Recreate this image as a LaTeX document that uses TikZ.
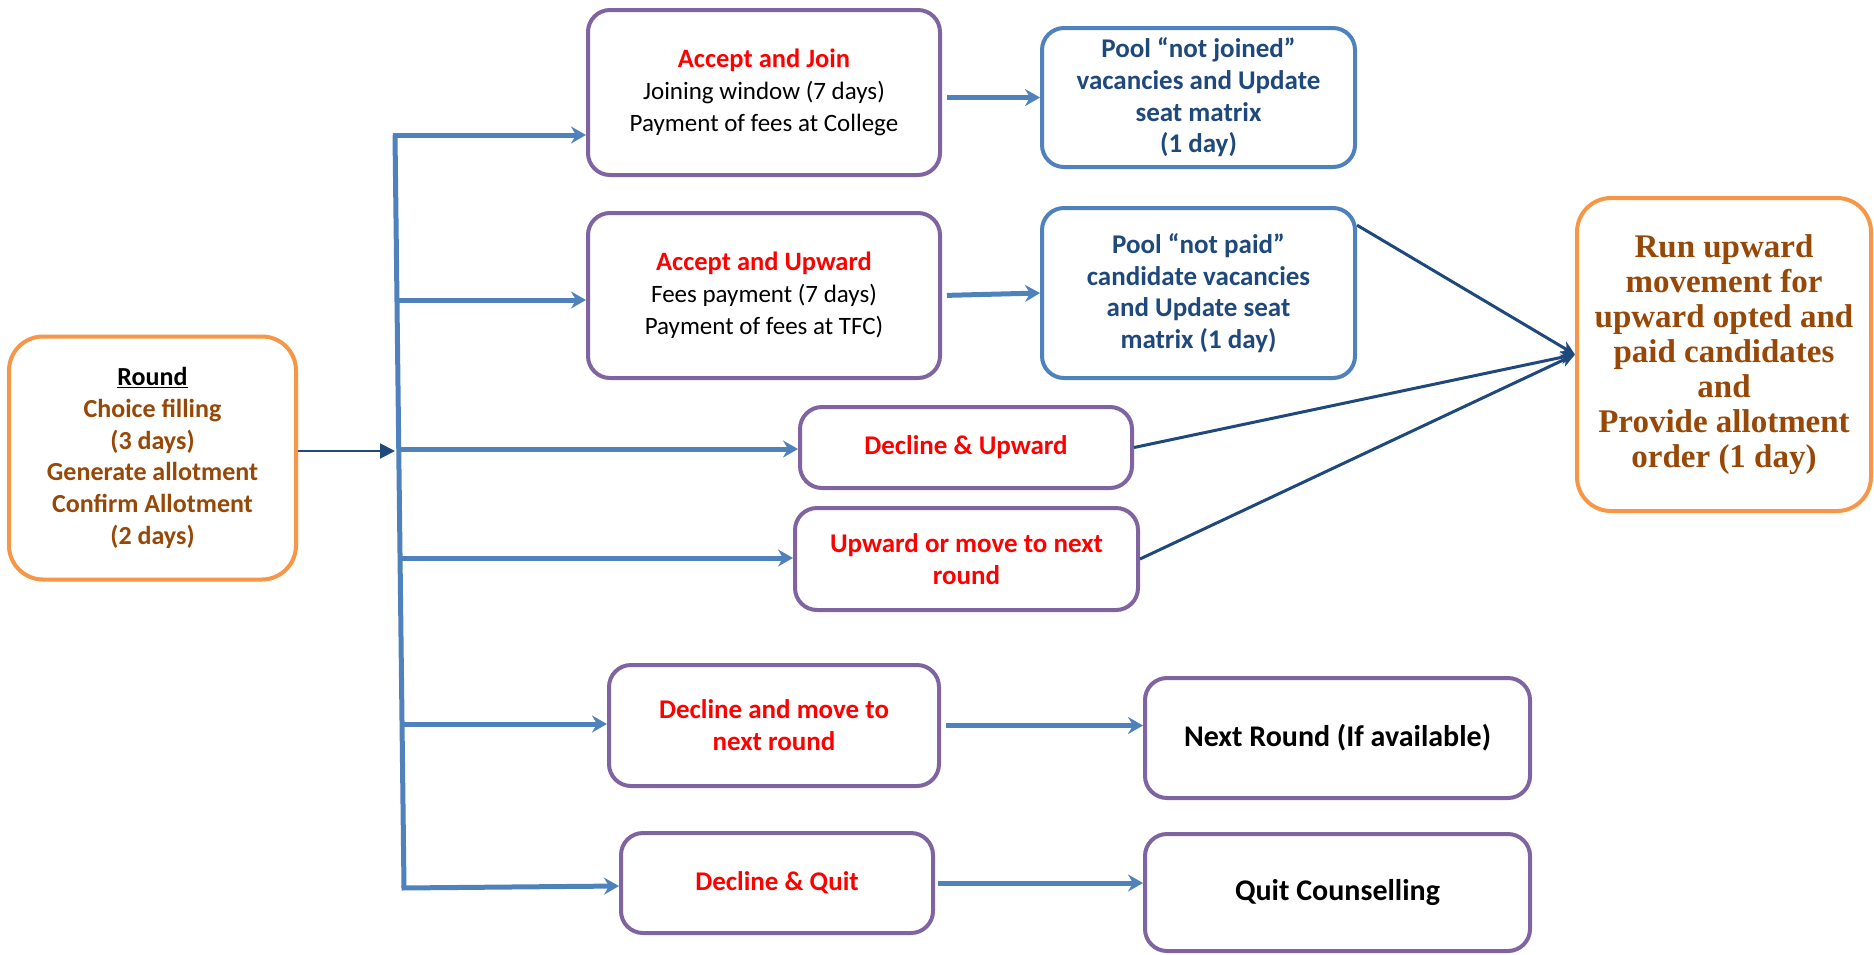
\documentclass[tikz,border=0pt]{standalone}
\usepackage{fontspec}
\setmainfont{Carlito}
\newfontfamily\timesfont{Liberation Serif}
\usetikzlibrary{arrows.meta,calc}
\definecolor{borange}{HTML}{F79646}
\definecolor{tbrown}{HTML}{974706}
\definecolor{bpurple}{HTML}{8064A2}
\definecolor{lblue}{HTML}{4F81BD}
\definecolor{dblue}{HTML}{1F497D}
\definecolor{tred}{HTML}{FF0000}
\begin{document}
\begin{tikzpicture}[x=1pt,y=-1pt,
  basebox/.style={draw, line width=4pt, align=center, inner sep=0pt, fill=white,
    font=\fontsize{25}{32}\selectfont},
  obox/.style={basebox, draw=borange, rounded corners=34pt},
  pbox/.style={basebox, draw=bpurple, rounded corners=22pt},
  bbox/.style={basebox, draw=lblue, rounded corners=22pt, text=dblue, font=\fontsize{27}{31.7}\selectfont\bfseries},
  redt/.style={text=tred, font=\fontsize{27}{32}\selectfont\bfseries},
  blkt/.style={text=black, font=\fontsize{30}{34}\selectfont\bfseries},
  bus/.style={draw=lblue, line width=5pt},
  lb/.style={draw=lblue, line width=5pt, -{Stealth[length=15pt,width=17pt,inset=5pt]}},
  db/.style={draw=dblue, line width=3pt, -{Stealth[length=14pt,width=13pt,inset=4pt]}},
  thin/.style={draw=dblue, line width=2pt, -{Triangle[length=15pt,width=15pt]}}
]
\useasboundingbox (0,0) rectangle (1874,954);

% nodes
\node[obox, text=tbrown, font=\fontsize{26}{31.7}\selectfont\bfseries,
  minimum width=287pt, minimum height=243pt] (round) at (152.5,458)
  {\textcolor{black}{\underline{Round}}\\Choice filling\\(3 days)\\Generate allotment\\Confirm Allotment\\(2 days)};

\node[pbox, minimum width=352pt, minimum height=165pt] (join) at (764,92.5)
  {\textcolor{tred}{\fontsize{26.5}{32}\selectfont\bfseries Accept and Join}\\Joining window (7 days)\\Payment of fees at College};
\node[bbox, minimum width=313pt, minimum height=139pt] (pooljoin) at (1198.5,97.5)
  {Pool “not joined”\\vacancies and Update\\seat matrix\\(1 day)};

\node[pbox, minimum width=352pt, minimum height=165pt] (upward) at (764,295.5)
  {\textcolor{tred}{\fontsize{26.5}{32}\selectfont\bfseries Accept and Upward}\\Fees payment (7 days)\\Payment of fees at TFC)};
\node[bbox, minimum width=313pt, minimum height=170pt] (poolpaid) at (1198.5,293)
  {Pool “not paid”\\candidate vacancies\\and Update seat\\matrix (1 day)};

\node[obox, text=tbrown, font=\fontsize{33}{35}\timesfont\bfseries,
  minimum width=294pt, minimum height=313pt] (run) at (1724,354.5)
  {Run upward\\movement for\\upward opted and\\paid candidates\\and\\Provide allotment\\order (1 day)};

\node[pbox, redt, minimum width=332pt, minimum height=81pt] (decup) at (966,447.5)
  {Decline \& Upward};
\node[pbox, redt, minimum width=343pt, minimum height=102pt] (upmove) at (966.5,559)
  {Upward or move to next\\round};

\node[pbox, redt, minimum width=330pt, minimum height=121pt] (decmove) at (774,725.5)
  {Decline and move to\\next round};
\node[pbox, blkt, minimum width=385pt, minimum height=120pt] (nextround) at (1337.5,738)
  {Next Round (If available)};

\node[pbox, redt, minimum width=312pt, minimum height=100pt] (decquit) at (777,883)
  {Decline \& Quit};
\node[pbox, blkt, minimum width=385pt, minimum height=117pt] (quit) at (1337.5,892.5)
  {Quit Counselling};

% bus
\coordinate (bt) at (395,135);
\coordinate (bb) at (404,888);
\coordinate (b2) at (397,300);
\coordinate (b3) at (398.8,449);
\coordinate (b4) at (400,558);
\coordinate (b5) at (402,724);
\coordinate (bin) at (395,451);
\draw[bus] (bt) -- (bb);

\draw[thin] (round.east |- bin) -- (bin);

\draw[lb] ([xshift=-2.5pt]bt) -- (bt -| join.west);
\draw[lb] (b2) -- (b2 -| upward.west);
\draw[lb] (b3) -- (b3 -| decup.west);
\draw[lb] (b4) -- (b4 -| upmove.west);
\draw[lb] (b5) -- (b5 -| decmove.west);
\draw[lb] ([xshift=-2.5pt]bb) -- ([yshift=2pt]bb -| decquit.west);

% second column arrows
\draw[lb, shorten <=5pt] (join.east |- pooljoin.west) -- (pooljoin.west);
\draw[lb, shorten <=5pt] (upward.east) -- (poolpaid.west);
\draw[lb, shorten <=5pt] (decmove.east) -- (decmove.east -| nextround.west);
\draw[lb, shorten <=3pt] (decquit.east) -- (decquit.east -| quit.west);

% converging arrows
\draw[db] ($(poolpaid.north east)!0.11!(poolpaid.south east)$) -- (run.west);
\draw[db] (decup.east) -- (run.west);
\draw[db] (upmove.east) -- (run.west);
\end{tikzpicture}
\end{document}
